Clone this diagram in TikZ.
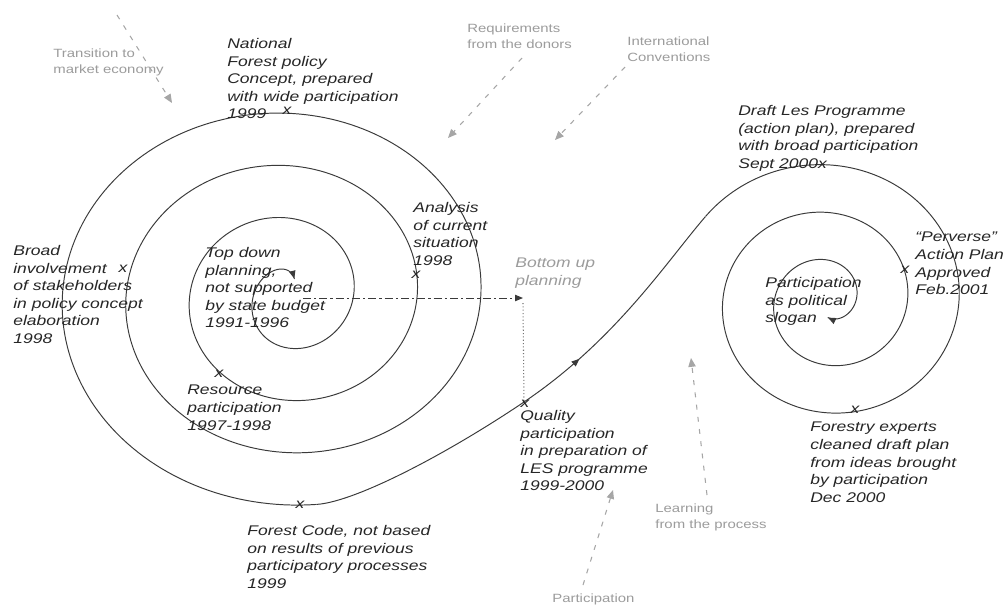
\documentclass[tikz,border=0pt]{standalone}
\usepackage{fontspec}
\newfontfamily\labfont[FakeStretch=1.25]{Liberation Sans}
\usetikzlibrary{arrows.meta,decorations.markings}

\definecolor{ink}{HTML}{262626}
\definecolor{lineink}{HTML}{3A3A3A}
\definecolor{soft}{HTML}{9C9C9C}
\definecolor{softline}{HTML}{A6A6A6}

\begin{document}
\begin{tikzpicture}[x=0.02cm,y=-0.02cm,
  spiral/.style={draw=lineink, line width=0.55pt, line cap=round, line join=round},
  evt/.style={font=\labfont\itshape\fontsize{7.97pt}{10pt}\selectfont, text=ink,
    align=left, anchor=north west, inner sep=0pt},
  cross/.style={font=\labfont\itshape\fontsize{7.97pt}{10pt}\selectfont, text=ink, inner sep=0pt},
  force/.style={font=\labfont\fontsize{6.8pt}{9.1pt}\selectfont, text=soft,
    align=left, anchor=north west, inner sep=0pt},
  influence/.style={draw=softline, line width=0.6pt, dash pattern=on 2.8pt off 4.2pt,
    -{Triangle[length=5pt,width=4.2pt,fill=softline]}},
]
\fill[white] (0,0) rectangle (1008,606);
\useasboundingbox (0,0) rectangle (1008,606);

% ---- left spiral: top-down planning growing outwards ----
\draw[spiral, postaction={decorate},
  decoration={markings, mark=at position 0 with {\arrowreversed{Triangle[length=4.5pt,width=3.6pt,fill=lineink]}}}]
  plot[domain=-5.3:17.4, samples=700, variable=\t]
  ({287.5+(66+10.13*\t)*cos(\t r)}, {296-(65+8.33*\t)*sin(\t r)});

% ---- right spiral: winding back inwards ----
\draw[spiral, postaction={decorate},
  decoration={markings, mark=at position 0 with {\arrowreversed{Triangle[length=4.5pt,width=3.6pt,fill=lineink]}}}]
  plot[domain=-14.14:2.513, samples=700, variable=\t]
  ({828+(131+8.2*\t)*cos(\t r)}, {300.75-(124+7.58*\t)*sin(\t r)});

% ---- joining curve between the two spirals ----
\coordinate (lsEnd) at ({287.5+(66+10.13*17.4)*cos(17.4 r)}, {296-(65+8.33*17.4)*sin(17.4 r)});
\coordinate (rsStart) at ({828+(131+8.2*2.513)*cos(2.513 r)}, {300.75-(124+7.58*2.513)*sin(2.513 r)});
\coordinate (qualityPt) at (524,402);
\draw[spiral] (lsEnd) .. controls (356.6,501.6) and (449.3,452.4) .. (qualityPt);
\draw[spiral, postaction={decorate},
  decoration={markings, mark=at position 0.27 with {\arrow{Triangle[length=4.5pt,width=3.6pt,fill=lineink]}}}]
  (qualityPt) .. controls (615.3,340.4) and (666.3,262.1) .. (rsStart);

% ---- bottom-up planning ----
\coordinate (tdCenter) at (303,298);
\coordinate (buTip) at (523,298);
\coordinate (buFoot) at (523,303);
\draw[draw=lineink, line width=0.55pt, dash pattern=on 4.5pt off 1.8pt on 1.2pt off 1.8pt,
  -{Triangle[length=4.5pt,width=3.6pt,fill=lineink]}] (tdCenter) -- (buTip);
\draw[draw=black!55, line width=0.6pt, dash pattern=on 0.6pt off 1.3pt] (buFoot) -- (qualityPt);

% ---- event markers ----
\node[cross] (xNational) at (287,111) {x};
\node[cross] (xAnalysis) at (416,275) {x};
\node[cross] (xBroad) at (123,269) {x};
\node[cross] (xResource) at (219,374) {x};
\node[cross] (xCode) at (300,505) {x};
\node[cross] (xQuality) at (525,404) {x};
\node[cross] (xApproved) at (905,270) {x};
\node[cross] (xExperts) at (855,410) {x};

% ---- event labels ----
\node[evt] (national) at (227,38) {National\\Forest policy\\Concept, prepared\\with wide participation\\1999};
\node[evt] (analysis) at (413,202) {Analysis\\of current\\situation\\1998};
\node[evt] (broad) at (13,245) {Broad\\involvement\\of stakeholders\\in policy concept\\elaboration\\1998};
\node[evt] (topdown) at (205,247) {Top down\\planning,\\not supported\\by state budget\\1991-1996};
\node[evt] (resource) at (187,385) {Resource\\participation\\1997-1998};
\node[evt] (code) at (247,525) {Forest Code, not based\\on results of previous\\participatory processes\\1999};
\node[evt] (quality) at (520,410) {Quality\\participation\\in preparation of\\LES programme\\1999-2000};
\node[evt] (draft) at (738,105) {Draft Les Programme\\(action plan), prepared\\with broad participation\\Sept 2000x};
\node[evt] (perverse) at (915,232) {“Perverse”\\Action Plan\\Approved\\Feb.2001};
\node[evt] (slogan) at (765,277) {Participation\\as political\\slogan};
\node[evt] (experts) at (810,422) {Forestry experts\\cleaned draft plan\\from ideas brought\\by participation\\Dec 2000};
\node[evt, text=soft] (bottomup) at (515,258) {Bottom up\\planning};

% ---- outside influences ----
\node[force] (transition) at (53,48) {Transition to\\market economy};
\node[force] (donors) at (467,23) {Requirements\\from the donors};
\node[force] (conventions) at (627,36) {International\\Conventions};
\node[force] (learning) at (655,503) {Learning\\from the process};
\node[force] (participation) at (552,593) {Participation};

\coordinate (transitionFrom) at (117,15);
\coordinate (transitionTo) at (172,103);
\coordinate (donorsFrom) at (522,58);
\coordinate (donorsTo) at (448,138);
\coordinate (conventionsFrom) at (625,67);
\coordinate (conventionsTo) at (555,140);
\coordinate (learningFrom) at (707,495);
\coordinate (learningTo) at (691,358);
\coordinate (participationFrom) at (583,585);
\coordinate (participationTo) at (613,490);

\draw[influence] (transitionFrom) -- (transitionTo);
\draw[influence] (donorsFrom) -- (donorsTo);
\draw[influence] (conventionsFrom) -- (conventionsTo);
\draw[influence] (learningFrom) -- (learningTo);
\draw[influence] (participationFrom) -- (participationTo);
\end{tikzpicture}
\end{document}
